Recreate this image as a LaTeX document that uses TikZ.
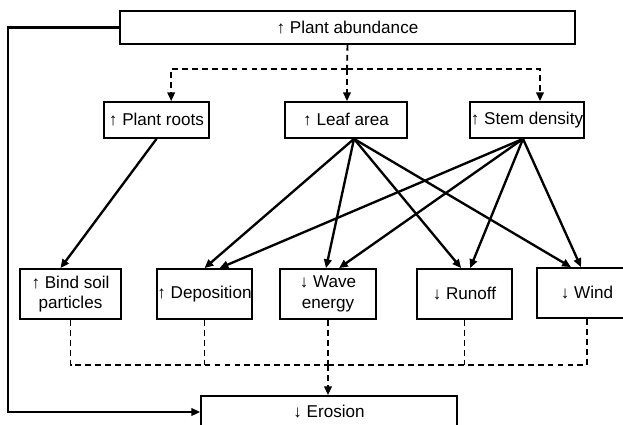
\documentclass[tikz,border=0pt]{standalone}
\usepackage{fontspec}
\setmainfont{Liberation Sans}
\usetikzlibrary{positioning}
\usetikzlibrary{arrows.meta}

\begin{document}
\begin{tikzpicture}[x=0.03cm, y=-0.03cm,
    box/.style={draw, rectangle, line width=1.5pt, align=center, inner sep=0pt,
                font=\fontsize{14.6}{17.5}\selectfont},
    arr/.style={-{Triangle[length=7.5pt,width=6.5pt]}, line width=2pt},
    dasharr/.style={-{Triangle[length=7.5pt,width=6.5pt]}, line width=1.6pt, dash pattern=on 5pt off 3.5pt},
    dline/.style={line width=1.6pt, dash pattern=on 5pt off 3.5pt}]
            \useasboundingbox (0,0) rectangle (623,424);
            % top
            \node[box, minimum width=455*0.03cm, minimum height=33*0.03cm] (abund) at (347.5,27.5) {↑ Plant abundance};
            \node[box, minimum width=105*0.03cm, minimum height=36*0.03cm] (roots) at (156.5,120) {↑ Plant roots};
            \node[box, minimum width=122*0.03cm, minimum height=36*0.03cm] (leaf) at (346,120) {↑ Leaf area};
            \node[box, minimum width=114*0.03cm, minimum height=36*0.03cm] (stem) at (527,120) {↑ Stem density};
            % middle row
            \node[box, minimum width=101*0.03cm, minimum height=50*0.03cm] (bind) at (70.5,294) {↑ Bind soil\\particles};
            \node[box, minimum width=95*0.03cm, minimum height=50*0.03cm] (depo) at (204.5,294) {↑ Deposition};
            \node[box, minimum width=96*0.03cm, minimum height=50*0.03cm] (wave) at (328,294) {↓ Wave\\energy};
            \node[box, minimum width=95*0.03cm, minimum height=50*0.03cm] (runoff) at (464.5,294) {↓ Runoff};
            \node[box, minimum width=100*0.03cm, minimum height=50*0.03cm] (wind) at (587,293) {↓ Wind};
            % bottom
            \node[box, minimum width=256*0.03cm, minimum height=32*0.03cm] (erosion) at (329,412) {↓ Erosion};

            % dashed split from abundance
            \coordinate (split) at (347,69);
            \draw[dline] (abund.south) -- (split);
            \draw[dasharr] (split) -| ([xshift=0.44cm]roots.north);
            \draw[dasharr] (split) -- (leaf.north -| split);
            \draw[dasharr] (split) -| ([xshift=0.39cm]stem.north);

            % solid effects
            \draw[arr] (roots.south) -- ([xshift=-0.3cm]bind.north);
            \draw[arr] ([xshift=0.24cm]leaf.south) -- (depo.north);
            \draw[arr] ([xshift=0.24cm]leaf.south) -- ([xshift=-0.06cm]wave.north);
            \draw[arr] ([xshift=0.24cm]leaf.south) -- ([xshift=-0.1cm]runoff.north);
            \draw[arr] ([xshift=0.24cm]leaf.south) -- ([xshift=-0.48cm]wind.north);
            \draw[arr] ([xshift=-0.12cm]stem.south) -- ([xshift=0.45cm]depo.north);
            \draw[arr] ([xshift=-0.12cm]stem.south) -- ([xshift=0.33cm]wave.north);
            \draw[arr] ([xshift=-0.12cm]stem.south) -- ([xshift=0.17cm]runoff.north);
            \draw[arr] ([xshift=-0.12cm]stem.south) -- ([xshift=-0.18cm]wind.north);

            % dashed join to erosion
            \coordinate (join) at (328,365);
            \draw[dline] (bind.south) |- (join);
            \draw[dline] (depo.south) -- (depo.south |- join);
            \draw[dline] (runoff.south) -- (runoff.south |- join);
            \draw[dline] (wind.south) |- (join);
            \draw[dline] (wave.south) -- (join);
            \draw[dasharr] (join) -- (erosion.north -| join);

            % direct feedback
            \draw[arr] (abund.west) -- ++(-111,0) |- (erosion.west);
        \end{tikzpicture}
\end{document}
